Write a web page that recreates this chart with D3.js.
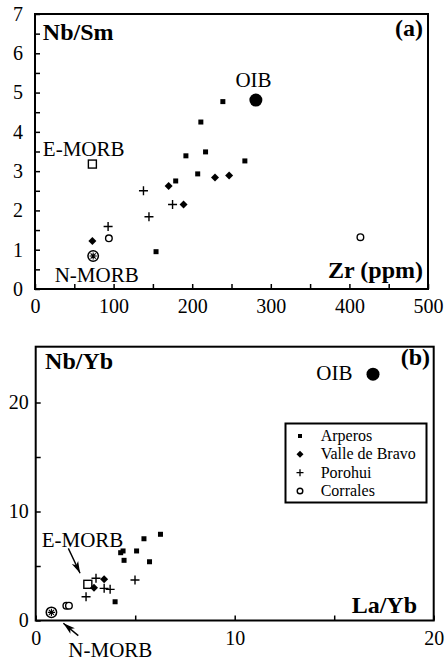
<!DOCTYPE html>
<html>
<head>
<meta charset="utf-8">
<script src="https://cdn.jsdelivr.net/npm/d3@7"></script>
<style>
  body { margin: 0; background: #fff; }
  .axis path { display: none; }
  .axis line { stroke: #000; stroke-width: 1.5; }
</style>
</head>
<body>
<div id="chart"></div>
<script>
// panel (a): Zr (ppm) vs Nb/Sm
const arperosA = [[154, 0.95], [179, 2.75], [192, 3.39], [207, 2.93], [211, 4.25], [217, 3.49], [239, 4.77], [267, 3.26]];
const valleA = [[73, 1.22], [170, 2.62], [189, 2.15], [229, 2.84], [247, 2.89]];
const porohuiA = [[93, 1.59], [138, 2.50], [145, 1.84], [175, 2.15]];
const corralesA = [[94, 1.29], [414, 1.32]];
const emorbA = [73, 3.18];
const nmorbA = [74, 0.84];
const oibA = [281, 4.81];
const xTicksA = [0, 50, 100, 150, 200, 250, 300, 350, 400, 450, 500];
const yTicksA = [0, 0.5, 1, 1.5, 2, 2.5, 3, 3.5, 4, 4.5, 5, 5.5, 6, 6.5, 7];

// panel (b): La/Yb vs Nb/Yb
const arperosB = [[6.27, 7.91], [5.44, 7.5], [4.39, 6.38], [4.27, 6.22], [5.07, 6.38], [4.44, 5.52], [5.72, 5.39], [3.99, 1.72]];
const valleB = [[2.93, 3.01], [3.44, 3.78]];
const porohuiB = [[2.53, 2.18], [3.03, 3.87], [3.44, 2.95], [3.74, 2.86], [4.99, 3.72]];
const corralesB = [[1.54, 1.36], [1.67, 1.36]];
const emorbB = [2.62, 3.32];
const nmorbB = [0.79, 0.75];
const oibB = [16.95, 22.6];
const xTicksB = [0, 5, 10, 15, 20];
const yTicksB = [0, 5, 10, 15, 20];

const groups = ["Arperos", "Valle de Bravo", "Porohui", "Corrales"];

const FONT = "'Liberation Serif', 'DejaVu Serif', serif";

const svg = d3.select("#chart").append("svg")
    .attr("width", 447)
    .attr("height", 662)
    .attr("font-family", FONT);

const defs = svg.append("defs");
defs.append("marker")
    .attr("id", "arrow")
    .attr("viewBox", "0 -5 12 10")
    .attr("refX", 12)
    .attr("refY", 0)
    .attr("markerWidth", 12)
    .attr("markerHeight", 10)
    .attr("markerUnits", "userSpaceOnUse")
    .attr("orient", "auto")
    .append("path")
    .attr("d", "M0,-3.5L12,0L0,3.5L3,0Z")
    .attr("fill", "#000");

// marker drawers
function drawSquare(g, pts, x, y, s) {
    g.selectAll(null).data(pts).enter().append("rect")
        .attr("x", d => x(d[0]) - s / 2)
        .attr("y", d => y(d[1]) - s / 2)
        .attr("width", s).attr("height", s)
        .attr("fill", "#000");
}
function drawDiamond(g, pts, x, y, r) {
    g.selectAll(null).data(pts).enter().append("path")
        .attr("transform", d => "translate(" + x(d[0]) + "," + y(d[1]) + ")")
        .attr("d", `M0,${-r}L${r},0L0,${r}L${-r},0Z`)
        .attr("fill", "#000");
}
function drawPlus(g, pts, x, y, r) {
    g.selectAll(null).data(pts).enter().append("path")
        .attr("transform", d => "translate(" + x(d[0]) + "," + y(d[1]) + ")")
        .attr("d", `M${-r},0H${r}M0,${-r}V${r}`)
        .attr("stroke", "#000").attr("stroke-width", 1.4).attr("fill", "none");
}
function drawCircle(g, pts, x, y, r) {
    g.selectAll(null).data(pts).enter().append("circle")
        .attr("cx", d => x(d[0])).attr("cy", d => y(d[1]))
        .attr("r", r)
        .attr("fill", "#fff").attr("stroke", "#000").attr("stroke-width", 1.4);
}
function drawRefs(g, x, y, emorb, nmorb, oib) {
    g.append("rect")
        .attr("x", x(emorb[0]) - 4).attr("y", y(emorb[1]) - 4)
        .attr("width", 8).attr("height", 8)
        .attr("fill", "#fff").attr("stroke", "#000").attr("stroke-width", 1.4);
    const n = g.append("g").attr("transform", "translate(" + x(nmorb[0]) + "," + y(nmorb[1]) + ")");
    n.append("circle").attr("r", 5.2).attr("fill", "#fff").attr("stroke", "#000").attr("stroke-width", 1.5);
    n.append("path")
        .attr("d", d3.range(4).map(i => {
            const a = i * Math.PI / 4, c = Math.cos(a) * 3.6, s = Math.sin(a) * 3.6;
            return `M${-c},${-s}L${c},${s}`;
        }).join(""))
        .attr("stroke", "#000").attr("stroke-width", 1.1);
    g.append("circle")
        .attr("cx", x(oib[0])).attr("cy", y(oib[1]))
        .attr("r", 6.5).attr("fill", "#000");
}

function drawAxes(g, x, y, xTicks, yTicks, xLabelEvery, yLabelEvery, yPad) {
    const [x0, x1] = x.range();
    const [y0, y1] = y.range();
    g.append("g")
        .attr("class", "axis")
        .attr("transform", "translate(0," + y0 + ")")
        .call(d3.axisBottom(x).tickValues(xTicks).tickSizeInner(-5).tickSizeOuter(0)
            .tickFormat(d => d % xLabelEvery === 0 ? d : ""))
        .attr("font-family", FONT)
        .attr("font-size", 20)
        .selectAll("text")
        .attr("y", 24).attr("dy", 0);
    g.append("g")
        .attr("class", "axis")
        .attr("transform", "translate(" + x0 + ",0)")
        .call(d3.axisLeft(y).tickValues(yTicks).tickSizeInner(-5).tickSizeOuter(0).tickPadding(yPad)
            .tickFormat(d => d % yLabelEvery === 0 ? d : ""))
        .attr("font-family", FONT)
        .attr("font-size", 20);
    g.append("rect")
        .attr("x", x0).attr("y", y1)
        .attr("width", x1 - x0).attr("height", y0 - y1)
        .attr("fill", "none").attr("stroke", "#000").attr("stroke-width", 2);
}

function label(g, px, py, txt, size, bold, anchor) {
    g.append("text")
        .attr("x", px).attr("y", py)
        .attr("font-family", FONT)
        .attr("font-size", size + "px")
        .attr("font-weight", bold ? "bold" : "normal")
        .attr("text-anchor", anchor || "start")
        .text(txt);
}

// ---- panel (a)
const xA = d3.scaleLinear().domain([0, 500]).range([35, 428]);
const yA = d3.scaleLinear().domain([0, 7]).range([289, 14]);
const gA = svg.append("g");
drawAxes(gA, xA, yA, xTicksA, yTicksA, 100, 1, 12);
drawRefs(gA, xA, yA, emorbA, nmorbA, oibA);
drawSquare(gA, arperosA, xA, yA, 5);
drawDiamond(gA, valleA, xA, yA, 4);
drawPlus(gA, porohuiA, xA, yA, 4.5);
drawCircle(gA, corralesA, xA, yA, 3.3);

label(gA, xA(10), yA(6.33), "Nb/Sm", 24, true);
label(gA, 423, 36, "(a)", 24, true, "end");
label(gA, xA(255), yA(5.14), "OIB", 21);
label(gA, xA(10), yA(3.38), "E-MORB", 21);
label(gA, xA(25), yA(0.19), "N-MORB", 21);
label(gA, 423, yA(0.28), "Zr (ppm)", 24, true, "end");

// ---- panel (b)
const xB = d3.scaleLinear().domain([0, 20]).range([35.7, 433.7]);
const yB = d3.scaleLinear().domain([0, 25.12]).range([620.5, 346.7]);
const gB = svg.append("g");
drawAxes(gB, xB, yB, xTicksB, yTicksB, 10, 10, 7);
drawRefs(gB, xB, yB, emorbB, nmorbB, oibB);
drawSquare(gB, arperosB, xB, yB, 5);
drawDiamond(gB, valleB, xB, yB, 4);
drawPlus(gB, porohuiB, xB, yB, 4.5);
drawCircle(gB, corralesB, xB, yB, 3.3);

label(gB, xB(0.47), yB(23.05), "Nb/Yb", 24, true);
label(gB, 430, yB(23.4), "(b)", 24, true, "end");
label(gB, xB(14.1), yB(22.1), "OIB", 21);
label(gB, xB(0.3), yB(6.77), "E-MORB", 21);
label(gB, xB(1.64), yB(-3.32), "N-MORB", 21);
label(gB, 417, yB(0.66), "La/Yb", 24, true, "end");

// arrows to the MORB references
gB.append("line")
    .attr("x1", xB(1.64)).attr("y1", yB(6.62))
    .attr("x2", xB(2.23)).attr("y2", yB(4.33))
    .attr("stroke", "#000").attr("stroke-width", 1.4)
    .attr("marker-end", "url(#arrow)");
gB.append("line")
    .attr("x1", xB(2.14)).attr("y1", yB(-1.39))
    .attr("x2", xB(1.39)).attr("y2", yB(-0.26))
    .attr("stroke", "#000").attr("stroke-width", 1.4)
    .attr("marker-end", "url(#arrow)");

// legend
const leg = gB.append("g");
leg.append("rect")
    .attr("x", 285.5).attr("y", 423.5)
    .attr("width", 141).attr("height", 79)
    .attr("fill", "#fff").attr("stroke", "#000").attr("stroke-width", 2);
const rowY = d3.scalePoint().domain(groups).range([436, 491]);
leg.append("rect")
    .attr("x", 298).attr("y", rowY(groups[0]) - 2)
    .attr("width", 4).attr("height", 4).attr("fill", "#000");
leg.append("path")
    .attr("transform", "translate(300," + rowY(groups[1]) + ")")
    .attr("d", "M0,-3.5L3.5,0L0,3.5L-3.5,0Z").attr("fill", "#000");
leg.append("path")
    .attr("transform", "translate(300," + rowY(groups[2]) + ")")
    .attr("d", "M-3.5,0H3.5M0,-3.5V3.5")
    .attr("stroke", "#000").attr("stroke-width", 1.3);
leg.append("circle")
    .attr("cx", 300).attr("cy", rowY(groups[3]))
    .attr("r", 2.8).attr("fill", "none").attr("stroke", "#000").attr("stroke-width", 1.4);
leg.selectAll("text").data(groups).enter().append("text")
    .attr("x", 320.7)
    .attr("y", d => rowY(d) + 5)
    .attr("font-family", FONT)
    .attr("font-size", "16px")
    .text(d => d);
</script>
</body>
</html>
